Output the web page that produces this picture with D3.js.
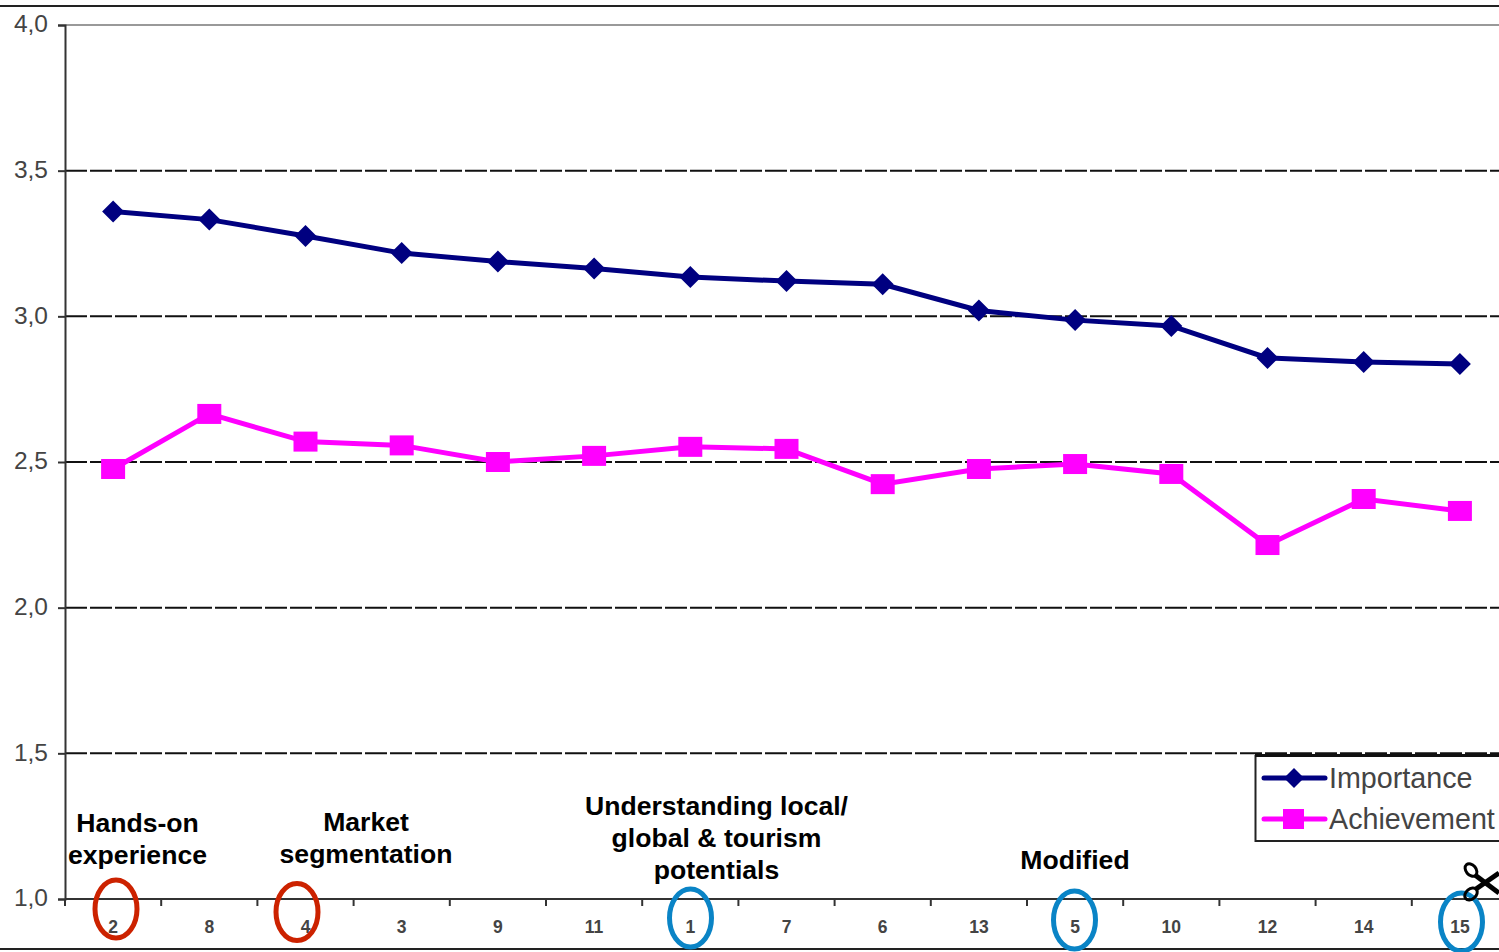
<!DOCTYPE html>
<html><head><meta charset="utf-8">
<script src="https://cdn.jsdelivr.net/npm/d3@7"></script>
<style>html,body{margin:0;padding:0;background:#fff;overflow:hidden}svg{display:block}text{font-family:"Liberation Sans",Arial,sans-serif}</style>
</head><body><svg id="c" width="1499" height="952"></svg>
<script>
const categories=["2","8","4","3","9","11","1","7","6","13","5","10","12","14","15"];
const importance=[3.36,3.332,3.276,3.217,3.188,3.164,3.135,3.121,3.11,3.02,2.987,2.967,2.857,2.843,2.836];
const achievement=[2.476,2.665,2.57,2.557,2.5,2.521,2.552,2.545,2.424,2.476,2.493,2.459,2.215,2.373,2.332];
const yTicks=[1,1.5,2,2.5,3,3.5,4];
const notes=[
 {lines:["Hands-on","experience"],x:137.5,y:[832,864]},
 {lines:["Market","segmentation"],x:366,y:[831,863]},
 {lines:["Understanding local/","global & tourism","potentials"],x:716.5,y:[815,847,879]},
 {lines:["Modified"],x:1075,y:[869]}];
const circles=[{x:116,y:909,rx:21,ry:29,c:"#cc2200"},{x:297,y:912,rx:21,ry:28.5,c:"#cc2200"},
 {x:690.5,y:918,rx:21,ry:29,c:"#0a84c6"},{x:1074.5,y:920,rx:21,ry:29,c:"#0a84c6"},{x:1461.5,y:922,rx:21,ry:29,c:"#0a84c6"}];
const svg=d3.select("#c");
const x=d3.scaleBand().domain(categories).range([65,1508]);
const y=d3.scaleLinear().domain([1,4]).range([899,25]);
const cx=c=>x(c)+x.bandwidth()/2;

svg.append("line").attr("x1",0).attr("x2",1499).attr("y1",6).attr("y2",6).attr("stroke","#222").attr("stroke-width",2);
svg.append("line").attr("x1",0).attr("x2",1499).attr("y1",949).attr("y2",949).attr("stroke","#222").attr("stroke-width",2);

// gridlines
svg.append("g").selectAll("line").data(yTicks.filter(t=>t>1)).join("line")
 .attr("x1",65).attr("x2",1499).attr("y1",d=>y(d)).attr("y2",d=>y(d))
 .attr("stroke",d=>d===4?"#999":"#111").attr("stroke-width",2)
 .attr("stroke-dasharray",d=>d===4?null:"22 3");

// axes
const ya=svg.append("g").attr("transform","translate(65,0)").call(d3.axisLeft(y).tickValues(yTicks).tickSize(7).tickPadding(10).tickFormat(d=>d3.format(".1f")(d).replace(".",",")));
ya.selectAll("text").attr("font-size",24.5).attr("fill","#444").attr("dy","0.28em").style("font-family",'"Liberation Sans",Arial,sans-serif');
ya.selectAll("line,path").attr("stroke","#333").attr("stroke-width",2);
const xa=svg.append("g").attr("transform","translate(0,899)").call(d3.axisBottom(x).tickSize(0).tickPadding(22));
xa.select("path").remove();
xa.selectAll("text").attr("font-size",17.5).attr("font-weight","bold").attr("fill","#444").style("font-family",'"Liberation Sans",Arial,sans-serif');
svg.append("line").attr("x1",65).attr("x2",1499).attr("y1",899).attr("y2",899).attr("stroke","#333").attr("stroke-width",2);
svg.append("g").selectAll("line").data(categories).join("line")
 .attr("x1",d=>x(d)).attr("x2",d=>x(d)).attr("y1",899).attr("y2",906).attr("stroke","#333").attr("stroke-width",2);

// series
const line=vals=>d3.line().x((d,i)=>cx(categories[i])).y(d=>y(d))(vals);
const navy="#000080",mag="#ff00ff";
svg.append("path").attr("d",line(importance)).attr("fill","none").attr("stroke",navy).attr("stroke-width",5);
svg.append("path").attr("d",line(achievement)).attr("fill","none").attr("stroke",mag).attr("stroke-width",5);
const dia=(s)=>`M0,${-s}L${s},0L0,${s}L${-s},0Z`;
svg.append("g").selectAll("path").data(importance).join("path")
 .attr("transform",(d,i)=>`translate(${cx(categories[i])},${y(d)})`).attr("d",dia(11)).attr("fill",navy);
svg.append("g").selectAll("rect").data(achievement).join("rect")
 .attr("x",(d,i)=>cx(categories[i])-12).attr("y",d=>y(d)-10).attr("width",24).attr("height",20).attr("fill",mag);

// annotations
notes.forEach(n=>n.lines.forEach((t,i)=>svg.append("text").attr("x",n.x).attr("y",n.y[i]).attr("text-anchor","middle")
 .attr("font-size",26.6).attr("font-weight","bold").attr("fill","#000").text(t)));
svg.append("g").selectAll("ellipse").data(circles).join("ellipse")
 .attr("cx",d=>d.x).attr("cy",d=>d.y).attr("rx",d=>d.rx).attr("ry",d=>d.ry)
 .attr("fill","none").attr("stroke",d=>d.c).attr("stroke-width",5);

// legend
const lg=svg.append("g");
lg.append("rect").attr("x",1255.5).attr("y",756).attr("width",260).attr("height",85).attr("fill","#fff").attr("stroke","#222").attr("stroke-width",2);
svg.append("line").attr("x1",1255).attr("x2",1499).attr("y1",755.5).attr("y2",755.5).attr("stroke","#111").attr("stroke-width",3);
[["Importance",778,navy,"d"],["Achievement",819,mag,"s"]].forEach(([t,ly,c,m])=>{
 lg.append("line").attr("x1",1264).attr("x2",1325).attr("y1",ly).attr("y2",ly).attr("stroke",c).attr("stroke-width",5).attr("stroke-linecap","round");
 if(m==="d") lg.append("path").attr("transform",`translate(1294,${ly})`).attr("d",dia(10)).attr("fill",c);
 else lg.append("rect").attr("x",1283).attr("y",ly-10).attr("width",21).attr("height",20).attr("fill",c);
 lg.append("text").attr("x",1329).attr("y",ly+10).attr("font-size",28.7).attr("fill","#444").text(t);
});

// scissors
const sc=svg.append("g").attr("fill","none").attr("stroke","#000");
sc.append("ellipse").attr("cx",1471).attr("cy",870).attr("rx",7).attr("ry",5).attr("transform","rotate(50 1471 870)").attr("stroke-width",3);
sc.append("ellipse").attr("cx",1471).attr("cy",894).attr("rx",7).attr("ry",5).attr("transform","rotate(-40 1471 894)").attr("stroke-width",3);
sc.append("line").attr("x1",1475).attr("y1",875).attr("x2",1499).attr("y2",893).attr("stroke-width",5);
sc.append("line").attr("x1",1476).attr("y1",889).attr("x2",1499).attr("y2",873).attr("stroke-width",5);
</script></body></html>
